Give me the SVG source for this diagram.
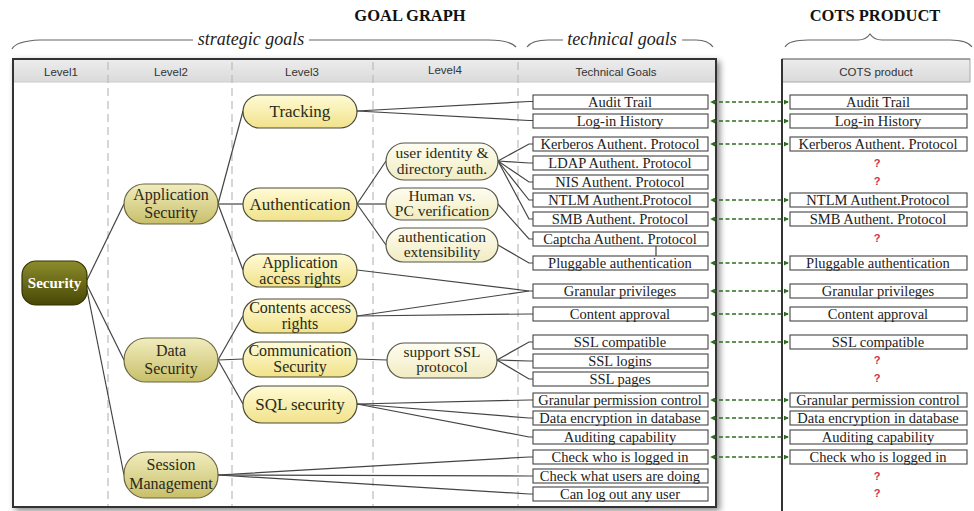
<svg xmlns="http://www.w3.org/2000/svg" width="974" height="511" viewBox="0 0 974 511">
<style>
.title{font-family:"Liberation Serif",serif;font-weight:bold;font-size:16.5px;fill:#111;text-anchor:middle}
.brace{fill:none;stroke:#666;stroke-width:1.2}
.btxt{font-family:"Liberation Serif",serif;font-style:italic;font-size:18px;fill:#222;text-anchor:middle}
.hdr{font-family:"Liberation Sans",Arial,sans-serif;font-size:11.5px;fill:#333;text-anchor:middle}
.sep{stroke:#bbb;stroke-width:1.2;stroke-dasharray:8,5}
.n1{fill:url(#g1);stroke:#333300;stroke-width:1.2}
.n2{fill:url(#g2);stroke:#6b6540;stroke-width:1.2}
.n3{fill:url(#g3);stroke:#4a4a3a;stroke-width:1.2}
.n4{fill:url(#g4);stroke:#55554a;stroke-width:1.2}
.nt2{font-family:"Liberation Serif",serif;font-size:16px;fill:#2a2a1a;text-anchor:middle}
.nt{font-family:"Liberation Serif",serif;font-size:17px;fill:#2a2a1a;text-anchor:middle}
.nt3{font-family:"Liberation Serif",serif;font-size:16px;fill:#2a2a1a;text-anchor:middle}
.nt4{font-family:"Liberation Serif",serif;font-size:15.5px;fill:#2a2a1a;text-anchor:middle}
.box{fill:#fff;stroke:#444;stroke-width:1.1}
.bt{font-family:"Liberation Serif",serif;font-size:14.5px;fill:#222;text-anchor:middle}
.q{font-family:"Liberation Sans",Arial,sans-serif;font-weight:bold;font-size:11px;fill:#d0304a;text-anchor:middle}
.c{fill:none;stroke:#444;stroke-width:1.2}
.d{fill:none;stroke:#2f6b22;stroke-width:1.6;stroke-dasharray:4,2.5;marker-start:url(#ah);marker-end:url(#ah)}
</style>
<defs>
<linearGradient id="g1" x1="0" y1="0" x2="0" y2="1"><stop offset="0" stop-color="#8c8c2c"/><stop offset="1" stop-color="#474706"/></linearGradient>
<linearGradient id="g2" x1="0" y1="0" x2="0" y2="1"><stop offset="0" stop-color="#f1edbe"/><stop offset="1" stop-color="#c8bf6a"/></linearGradient>
<linearGradient id="g3" x1="0" y1="0" x2="0" y2="1"><stop offset="0" stop-color="#fffbd6"/><stop offset="1" stop-color="#f1e28a"/></linearGradient>
<linearGradient id="g4" x1="0" y1="0" x2="0" y2="1"><stop offset="0" stop-color="#fefdf0"/><stop offset="1" stop-color="#f1ecc2"/></linearGradient>
<linearGradient id="gh" x1="0" y1="0" x2="0" y2="1"><stop offset="0" stop-color="#ececec"/><stop offset="1" stop-color="#dadada"/></linearGradient>
<filter id="sh" x="-5%" y="-5%" width="110%" height="110%"><feDropShadow dx="3" dy="3" stdDeviation="3" flood-color="#000" flood-opacity="0.45"/></filter>
<marker id="ah" viewBox="0 0 6 6" refX="5" refY="3" markerWidth="5" markerHeight="5" orient="auto-start-reverse" markerUnits="userSpaceOnUse"><path d="M0,0 L6,3 L0,6 Z" fill="#2f6b22"/></marker>
</defs>

<rect width="974" height="511" fill="#fff"/>

<!-- titles and braces -->
<text class="title" x="410" y="21">GOAL GRAPH</text>
<text class="title" x="875" y="21">COTS PRODUCT</text>
<path class="brace" d="M12,49 Q16,41 40,40 L193,40"/>
<path class="brace" d="M309,40 L488,40 Q510,40 516,47"/>
<text class="btxt" x="251" y="45">strategic goals</text>
<path class="brace" d="M527,47 Q532,40 548,40 L563,40"/>
<path class="brace" d="M682,40 L696,40 Q708,40 713,47"/>
<text class="btxt" x="622" y="45">technical goals</text>
<path class="brace" d="M785,47 Q789,40 808,40 L858,40 Q866,40 870,34 Q874,40 882,40 L950,40 Q967,40 972,47"/>

<!-- main panel -->
<g id="panel">
<rect x="13" y="59" width="703" height="448" fill="#fff" stroke="#333" stroke-width="2" filter="url(#sh)"/>
<rect x="14" y="60" width="701" height="22" fill="url(#gh)"/>
<line x1="14" y1="82" x2="715" y2="82" stroke="#ccc" stroke-width="1"/>
<rect x="13" y="59" width="703" height="448" fill="none" stroke="#333" stroke-width="2"/>
<line class="sep" x1="108" y1="62" x2="108" y2="506"/>
<line class="sep" x1="232" y1="62" x2="232" y2="506"/>
<line class="sep" x1="373" y1="62" x2="373" y2="506"/>
<line class="sep" x1="518" y1="62" x2="518" y2="506"/>
<text class="hdr" x="61" y="76">Level1</text>
<text class="hdr" x="171" y="76">Level2</text>
<text class="hdr" x="302" y="76">Level3</text>
<text class="hdr" x="445" y="74">Level4</text>
<text class="hdr" x="616" y="76">Technical Goals</text>
</g>

<!-- COTS panel -->
<g id="cots-panel">
<rect x="782" y="59" width="188" height="23" fill="url(#gh)" stroke="#aaa" stroke-width="1"/>
<line x1="782" y1="59" x2="970" y2="59" stroke="#777" stroke-width="1.2"/>
<line x1="782" y1="59" x2="782" y2="511" stroke="#333" stroke-width="2"/>
<text class="hdr" x="876" y="76">COTS product</text>
</g>

<!-- connectors -->
<g id="connectors">
<path class="c" d="M87,280 L124,204"/>
<path class="c" d="M87,285 L124,360"/>
<path class="c" d="M87,290 L124,475"/>
<path class="c" d="M218,204 L243,111"/>
<path class="c" d="M218,204 L243,204"/>
<path class="c" d="M218,204 L243,270"/>
<path class="c" d="M218,360 L243,316"/>
<path class="c" d="M218,360 L243,359"/>
<path class="c" d="M218,360 L243,404"/>
<path class="c" d="M357,111 L529,101.5 L533,101.5"/>
<path class="c" d="M357,111 L529,120.5 L533,120.5"/>
<path class="c" d="M357,204 L386,161"/>
<path class="c" d="M357,204 L386,204"/>
<path class="c" d="M357,204 L386,245"/>
<path class="c" d="M498,161 L529,144 L533,144"/>
<path class="c" d="M498,161 L529,163 L533,163"/>
<path class="c" d="M498,161 L529,182 L533,182"/>
<path class="c" d="M498,161 L529,200 L533,200"/>
<path class="c" d="M498,161 L529,219 L533,219"/>
<path class="c" d="M498,204 L529,239 L533,239"/>
<path class="c" d="M498,245 L529,263 L533,263"/>
<path class="c" d="M357,270 L529,291 L533,291"/>
<path class="c" d="M357,316 L529,291"/>
<path class="c" d="M357,316 L529,314 L533,314"/>
<path class="c" d="M357,359 L387,360"/>
<path class="c" d="M497,360 L529,342 L533,342"/>
<path class="c" d="M497,360 L529,361 L533,361"/>
<path class="c" d="M497,360 L529,379 L533,379"/>
<path class="c" d="M357,404 L529,400 L533,400"/>
<path class="c" d="M357,404 L529,418 L533,418"/>
<path class="c" d="M357,404 L529,437 L533,437"/>
<path class="c" d="M218,475 L529,457 L533,457"/>
<path class="c" d="M218,475 L529,476 L533,476"/>
<path class="c" d="M218,475 L529,494 L533,494"/>
<path class="c" d="M656,246 L656,256"/>
<!-- mapping arrows -->
<path class="d" d="M788,102 L711,102"/>
<path class="d" d="M788,121 L711,121"/>
<path class="d" d="M788,144 L711,144"/>
<path class="d" d="M788,200 L711,200"/>
<path class="d" d="M788,219 L711,219"/>
<path class="d" d="M788,263 L711,263"/>
<path class="d" d="M788,291 L711,291"/>
<path class="d" d="M788,314 L711,314"/>
<path class="d" d="M788,342 L711,342"/>
<path class="d" d="M788,400 L711,400"/>
<path class="d" d="M788,418 L711,418"/>
<path class="d" d="M788,437 L711,437"/>
<path class="d" d="M788,457 L711,457"/>
</g>

<!-- goal nodes -->
<g id="security"><rect class="n1" x="22" y="261" width="65" height="44" rx="14"/><text x="54.5" y="288" font-family="Liberation Serif, serif" font-weight="bold" font-size="15" fill="#fff" text-anchor="middle">Security</text></g>

<g id="app-security"><rect class="n2" x="124" y="184" width="94" height="40" rx="20"/><text class="nt2" x="171" y="200">Application<tspan x="171" dy="17.5">Security</tspan></text></g>
<g id="data-security"><rect class="n2" x="124" y="338" width="94" height="44" rx="22"/><text class="nt2" x="171" y="356">Data<tspan x="171" dy="18">Security</tspan></text></g>
<g id="session-mgmt"><rect class="n2" x="124" y="452" width="94" height="46" rx="22"/><text class="nt2" x="171" y="470">Session<tspan x="171" dy="19">Management</tspan></text></g>

<g id="tracking"><rect class="n3" x="243" y="95" width="114" height="33" rx="16.5"/><text class="nt" x="300" y="117">Tracking</text></g>
<g id="authentication"><rect class="n3" x="243" y="188" width="114" height="33" rx="16.5"/><text class="nt" x="300" y="210">Authentication</text></g>
<g id="app-access"><rect class="n3" x="243" y="254" width="114" height="33" rx="16.5"/><text class="nt3" x="300" y="267.5">Application<tspan x="300" dy="16">access rights</tspan></text></g>
<g id="contents-access"><rect class="n3" x="243" y="299" width="114" height="34" rx="17"/><text class="nt3" x="300" y="312.5">Contents access<tspan x="300" dy="16">rights</tspan></text></g>
<g id="comm-security"><rect class="n3" x="243" y="342" width="114" height="35" rx="17.5"/><text class="nt3" x="300" y="356">Communication<tspan x="300" dy="16">Security</tspan></text></g>
<g id="sql-security"><rect class="n3" x="243" y="386" width="114" height="37" rx="18.5"/><text class="nt" x="300" y="410">SQL security</text></g>

<g id="user-identity"><rect class="n4" x="386" y="143" width="112" height="37" rx="18.5"/><text class="nt4" x="442" y="157.5">user identity &amp;<tspan x="442" dy="16">directory auth.</tspan></text></g>
<g id="human-pc"><rect class="n4" x="386" y="188" width="112" height="32" rx="16"/><text class="nt4" x="442" y="200.5">Human vs.<tspan x="442" dy="15.5">PC verification</tspan></text></g>
<g id="auth-ext"><rect class="n4" x="386" y="228" width="112" height="34" rx="17"/><text class="nt4" x="442" y="241.5">authentication<tspan x="442" dy="15.5">extensibility</tspan></text></g>
<g id="support-ssl"><rect class="n4" x="387" y="343" width="110" height="35" rx="17.5"/><text class="nt4" x="442" y="356.5">support SSL<tspan x="442" dy="15.5">protocol</tspan></text></g>

<!-- technical goals -->
<g id="tg-audit"><rect class="box" x="533" y="95" width="175" height="14"/><text class="bt" x="620" y="107">Audit Trail</text></g>
<g id="tg-login"><rect class="box" x="533" y="114" width="175" height="14"/><text class="bt" x="620" y="126">Log-in History</text></g>
<g id="tg-kerberos"><rect class="box" x="533" y="137" width="175" height="14"/><text class="bt" x="620" y="149">Kerberos Authent. Protocol</text></g>
<g id="tg-ldap"><rect class="box" x="533" y="156" width="175" height="14"/><text class="bt" x="620" y="168">LDAP Authent. Protocol</text></g>
<g id="tg-nis"><rect class="box" x="533" y="175" width="175" height="14"/><text class="bt" x="620" y="187">NIS Authent. Protocol</text></g>
<g id="tg-ntlm"><rect class="box" x="533" y="193" width="175" height="14"/><text class="bt" x="620" y="205">NTLM Authent.Protocol</text></g>
<g id="tg-smb"><rect class="box" x="533" y="212" width="175" height="14"/><text class="bt" x="620" y="224">SMB Authent. Protocol</text></g>
<g id="tg-captcha"><rect class="box" x="533" y="232" width="175" height="14"/><text class="bt" x="620" y="244">Captcha Authent. Protocol</text></g>
<g id="tg-pluggable"><rect class="box" x="533" y="256" width="175" height="14"/><text class="bt" x="620" y="268">Pluggable authentication</text></g>
<g id="tg-granpriv"><rect class="box" x="533" y="284" width="175" height="14"/><text class="bt" x="620" y="296">Granular privileges</text></g>
<g id="tg-content"><rect class="box" x="533" y="307" width="175" height="14"/><text class="bt" x="620" y="319">Content approval</text></g>
<g id="tg-sslcomp"><rect class="box" x="533" y="335" width="175" height="14"/><text class="bt" x="620" y="347">SSL compatible</text></g>
<g id="tg-ssllogins"><rect class="box" x="533" y="354" width="175" height="14"/><text class="bt" x="620" y="366">SSL logins</text></g>
<g id="tg-sslpages"><rect class="box" x="533" y="372" width="175" height="14"/><text class="bt" x="620" y="384">SSL pages</text></g>
<g id="tg-granperm"><rect class="box" x="533" y="393" width="175" height="14"/><text class="bt" x="620" y="405">Granular permission control</text></g>
<g id="tg-dataenc"><rect class="box" x="533" y="411" width="175" height="14"/><text class="bt" x="620" y="423">Data encryption in database</text></g>
<g id="tg-auditing"><rect class="box" x="533" y="430" width="175" height="14"/><text class="bt" x="620" y="442">Auditing capability</text></g>
<g id="tg-checkwho"><rect class="box" x="533" y="450" width="175" height="14"/><text class="bt" x="620" y="462">Check who is logged in</text></g>
<g id="tg-checkwhat"><rect class="box" x="533" y="469" width="175" height="14"/><text class="bt" x="620" y="481">Check what users are doing</text></g>
<g id="tg-logout"><rect class="box" x="533" y="487" width="175" height="14"/><text class="bt" x="620" y="499">Can log out any user</text></g>

<!-- COTS product features -->
<g id="cp-audit"><rect class="box" x="790" y="95" width="177" height="14"/><text class="bt" x="878" y="107">Audit Trail</text></g>
<g id="cp-login"><rect class="box" x="790" y="114" width="177" height="14"/><text class="bt" x="878" y="126">Log-in History</text></g>
<g id="cp-kerberos"><rect class="box" x="790" y="137" width="177" height="14"/><text class="bt" x="878" y="149">Kerberos Authent. Protocol</text></g>
<text class="q" x="877" y="167">?</text>
<text class="q" x="877" y="185">?</text>
<g id="cp-ntlm"><rect class="box" x="790" y="193" width="177" height="14"/><text class="bt" x="878" y="205">NTLM Authent.Protocol</text></g>
<g id="cp-smb"><rect class="box" x="790" y="212" width="177" height="14"/><text class="bt" x="878" y="224">SMB Authent. Protocol</text></g>
<text class="q" x="877" y="242">?</text>
<g id="cp-pluggable"><rect class="box" x="790" y="256" width="177" height="14"/><text class="bt" x="878" y="268">Pluggable authentication</text></g>
<g id="cp-granpriv"><rect class="box" x="790" y="284" width="177" height="14"/><text class="bt" x="878" y="296">Granular privileges</text></g>
<g id="cp-content"><rect class="box" x="790" y="307" width="177" height="14"/><text class="bt" x="878" y="319">Content approval</text></g>
<g id="cp-sslcomp"><rect class="box" x="790" y="335" width="177" height="14"/><text class="bt" x="878" y="347">SSL compatible</text></g>
<text class="q" x="877" y="364">?</text>
<text class="q" x="877" y="382">?</text>
<g id="cp-granperm"><rect class="box" x="790" y="393" width="177" height="14"/><text class="bt" x="878" y="405">Granular permission control</text></g>
<g id="cp-dataenc"><rect class="box" x="790" y="411" width="177" height="14"/><text class="bt" x="878" y="423">Data encryption in database</text></g>
<g id="cp-auditing"><rect class="box" x="790" y="430" width="177" height="14"/><text class="bt" x="878" y="442">Auditing capability</text></g>
<g id="cp-checkwho"><rect class="box" x="790" y="450" width="177" height="14"/><text class="bt" x="878" y="462">Check who is logged in</text></g>
<text class="q" x="877" y="480">?</text>
<text class="q" x="877" y="497">?</text>
</svg>
